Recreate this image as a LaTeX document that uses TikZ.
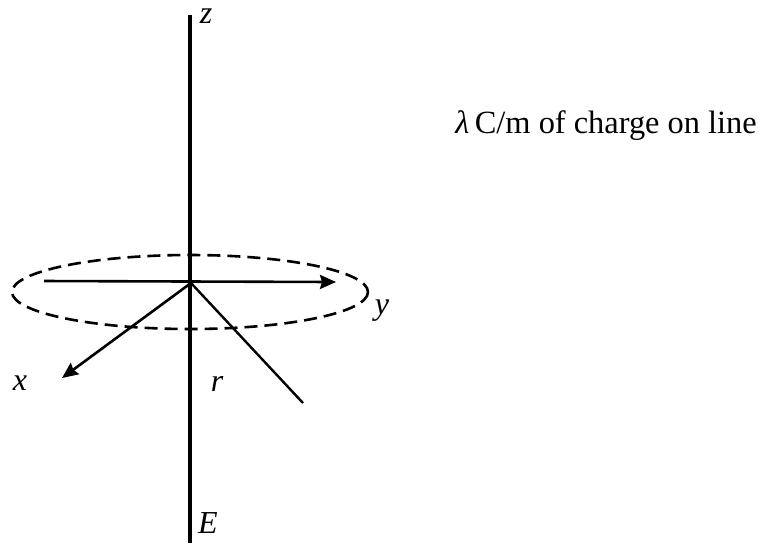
\documentclass[tikz,border=0pt]{standalone}
\usepackage{fontspec}
\setmainfont{Liberation Serif}
\usetikzlibrary{arrows.meta}
\begin{document}
\begin{tikzpicture}[x=0.5pt,y=-0.5pt,
  lbl/.style={font=\fontsize{16}{19}\selectfont\itshape, inner sep=0pt},
  axis/.style={line width=1.3pt, -{Stealth[length=8pt,width=7pt,inset=1pt]}},
  thin/.style={line width=1.2pt},
  zline/.style={line width=2.4pt},
  ring/.style={line width=1.3pt, dash pattern=on 6.5pt off 3.5pt}]
\useasboundingbox (0,0) rectangle (764,543);
\coordinate (O) at (191,283);
\coordinate (ztop) at (190,15);
\coordinate (zbot) at (190,543);
\coordinate (yst) at (44,281);
\coordinate (yend) at (336,282);
\coordinate (xend) at (62,378);
\coordinate (rend) at (303,403);
\draw[zline] (ztop) -- (zbot);
\draw[ring] (190,292) ellipse [x radius=178, y radius=37];
\draw[axis] (yst) -- (yend);
\draw[axis] (O) -- (xend);
\draw[thin] (O) -- (rend);
\node[lbl] (zl) at (206,16) {z};
\node[lbl] (El) at (208,523) {E};
\node[lbl] (xl) at (20,383) {x};
\node[lbl] (yl) at (382,311) {y};
\node[lbl] (rl) at (217,384) {r};
\node[anchor=base west, inner sep=0pt, font=\fontsize{16.2}{19}\selectfont] (lam) at (455,133) {\textit{λ}\,C/m of charge on line};
\end{tikzpicture}
\end{document}
